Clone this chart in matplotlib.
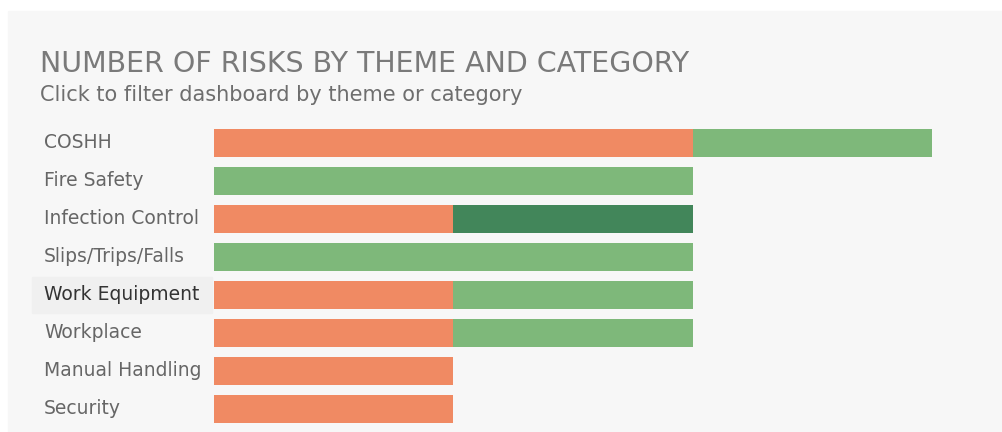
import matplotlib
matplotlib.use("Agg")
import matplotlib.pyplot as plt
import matplotlib.transforms as mtransforms
from matplotlib.patches import Rectangle

# data
themes = ["COSHH", "Fire Safety", "Infection Control", "Slips/Trips/Falls",
          "Work Equipment", "Workplace", "Manual Handling", "Security"]
orange = [2, 0, 1, 0, 1, 1, 1, 1]
light_green = [1, 2, 0, 2, 1, 1, 0, 0]
dark_green = [0, 0, 1, 0, 0, 0, 0, 0]

c_orange = "#F08A63"
c_light = "#7EB87A"
c_dark = "#42865A"

W, H = 1002, 432
fig = plt.figure(figsize=(W / 100, H / 100), dpi=100)
fig.patch.set_facecolor("white")

# grey panel behind everything
fig.patches.append(Rectangle((8 / W, 0), 1 - 8 / W, 1 - 11 / H,
                             transform=fig.transFigure, color="#F7F7F7", zorder=-10))

# highlighted label cell
fig.patches.append(Rectangle((32 / W, 1 - 313 / H), 180 / W, 36 / H,
                             transform=fig.transFigure, color="#F0F0F0", zorder=-9))

ax = fig.add_axes([214 / W, 1 - 428 / H, (W - 214) / W, 304 / H])
ax.set_facecolor("none")
unit = 239.3
ax.set_xlim(0, (W - 214) / unit)
ax.set_ylim(7.5, -0.5)

y = list(range(len(themes)))
left2 = [o for o in orange]
left3 = [o + g for o, g in zip(orange, light_green)]
ax.barh(y, orange, height=0.74, color=c_orange, linewidth=0)
ax.barh(y, light_green, left=left2, height=0.74, color=c_light, linewidth=0)
ax.barh(y, dark_green, left=left3, height=0.74, color=c_dark, linewidth=0)

ax.axis("off")

trans = mtransforms.blended_transform_factory(fig.transFigure, ax.transData)
for i, t in enumerate(themes):
    col = "#333333" if t == "Work Equipment" else "#666666"
    fig.text(44 / W, i, t, transform=trans, ha="left", va="center",
             fontsize=13.5, color=col, family="DejaVu Sans")

fig.text(40 / W, 1 - 64 / H, "NUMBER OF RISKS BY THEME AND CATEGORY",
         ha="left", va="center", fontsize=20.5, color="#7A7A7A",
         family="DejaVu Sans")
fig.text(40 / W, 1 - 95 / H, "Click to filter dashboard by theme or category",
         ha="left", va="center", fontsize=15, color="#6E6E6E",
         family="DejaVu Sans")

fig.savefig("out.png", dpi=100, facecolor=fig.get_facecolor())
